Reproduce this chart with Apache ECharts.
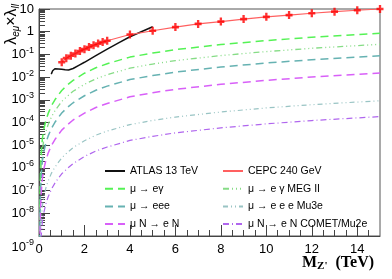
<!DOCTYPE html>
<html><head><meta charset="utf-8">
<script src="https://cdn.jsdelivr.net/npm/echarts@6/dist/echarts.min.js"></script>
<style>html,body{margin:0;padding:0;background:#fff}#c{width:392px;height:279px}</style>
</head><body><div id="c"></div>
<script>
// ---- data ----
const xTheory  = [0.03,0.05,0.07,0.1,0.15,0.2,0.3,0.4,0.55,0.7,0.85,1,1.25,1.5,2,2.5,3,4,5,6,8,10,12,15];
const muEgamma = [5e-9,1.3e-7,1e-6,5e-6,2e-5,4.4e-5,1.2e-4,2.45e-4,5.5e-4,1e-3,1.62e-3,2.57e-3,4.5e-3,7.2e-3,0.0148,0.0257,0.039,0.076,0.115,0.162,0.272,0.407,0.569,0.85];
const megII    = [1.6e-9,4.1e-8,3.3e-7,1.6e-6,6.5e-6,1.43e-5,3.9e-5,8.0e-5,1.8e-4,3.3e-4,5.3e-4,8.4e-4,1.46e-3,2.37e-3,4.8e-3,8.4e-3,0.0127,0.0248,0.0376,0.053,0.089,0.133,0.186,0.279];
const muEee    = [5.1e-10,1.29e-8,1.02e-7,5.1e-7,2.0e-6,4.5e-6,1.23e-5,2.5e-5,5.6e-5,1.02e-4,1.66e-4,2.6e-4,4.6e-4,7.4e-4,1.51e-3,2.63e-3,4.0e-3,7.8e-3,0.0117,0.0166,0.0278,0.0417,0.0582,0.087];
const muNeN    = [9e-11,2.2e-9,1.8e-8,8.9e-8,3.5e-7,7.8e-7,2.1e-6,4.4e-6,9.8e-6,1.78e-5,2.9e-5,4.6e-5,7.9e-5,1.29e-4,2.6e-4,4.6e-4,6.9e-4,1.35e-3,2.04e-3,2.9e-3,4.8e-3,7.2e-3,0.0101,0.0151];
const mu3e     = [5.4e-12,1.35e-10,1.07e-9,5.4e-9,2.14e-8,4.7e-8,1.29e-7,2.63e-7,5.9e-7,1.07e-6,1.74e-6,2.75e-6,4.8e-6,7.8e-6,1.58e-5,2.75e-5,4.2e-5,8.1e-5,1.23e-4,1.74e-4,2.9e-4,4.4e-4,6.1e-4,9.1e-4];
const comet    = [1.07e-12,2.7e-11,2.1e-10,1.07e-9,4.3e-9,9.3e-9,2.6e-8,5.2e-8,1.17e-7,2.14e-7,3.5e-7,5.5e-7,9.5e-7,1.55e-6,3.2e-6,5.5e-6,8.3e-6,1.62e-5,2.45e-5,3.5e-5,5.8e-5,8.7e-5,1.22e-4,1.82e-4];

const atlasX = [0.54,0.6,0.7,0.75,0.85,1.0,1.15,1.3,1.5,1.75,2.0,2.5,3.0,3.5,4.0,4.5,5.0];
const atlasY = [0.0135,0.019,0.0235,0.0245,0.023,0.022,0.021,0.0205,0.024,0.033,0.045,0.089,0.17,0.32,0.6,1.0,1.66];

const cepcX = [1.0,1.2,1.4,1.6,1.8,2.0,2.2,2.4,2.6,2.8,3.0,4,5,6,7,8,9,10,11,12,13,14,15];
const cepcY = [0.045,0.068,0.087,0.11,0.14,0.17,0.21,0.25,0.30,0.35,0.40,0.75,1.1,1.6,2.2,2.8,3.6,4.5,5.4,6.5,7.6,8.8,10];

const yMinorTicks = [];
for (let e = -9; e <= 0; e++) for (let k = 2; k <= 9; k++) yMinorTicks.push(+(k * Math.pow(10, e)).toPrecision(3));
const xMinorTicks = [];
for (let v = 0.5; v < 15; v += 0.5) if (v % 2 !== 0) xMinorTicks.push(v);

const pairs = (xs, ys) => xs.map((x, i) => [x, ys[i]]);
const FONT = 'Liberation Sans';
const SERIF = 'Liberation Serif';

const theory = [
  {name: 'μ → eγ', data: muEgamma, color: '#55f255', type: [8, 5], width: 1.5},
  {name: 'μ → e γ MEG II', data: megII, color: '#86dc86', type: [6, 3, 1, 3, 1, 3, 1, 3], width: 1.3},
  {name: 'μ → eee', data: muEee, color: '#66b2b2', type: [8, 5], width: 1.5},
  {name: 'μ N → e N', data: muNeN, color: '#d860f8', type: [8, 5], width: 1.5},
  {name: 'μ → e e e Mu3e', data: mu3e, color: '#99c4c4', type: [5, 3, 1, 3, 1, 3], width: 1.2},
  {name: 'μ N → e N COMET/Mu2e', data: comet, color: '#b066ee', type: [6, 3, 1, 3], width: 1.2}
];

const series = [];
theory.forEach(t => series.push({
  type: 'line', name: t.name, data: pairs(xTheory, t.data), symbol: 'none',
  lineStyle: {color: t.color, type: t.type, width: t.width}, itemStyle: {color: t.color}, z: 2
}));
series.push({type: 'line', name: 'ATLAS 13 TeV', data: pairs(atlasX, atlasY), symbol: 'none',
  lineStyle: {color: '#111', width: 1.5}, itemStyle: {color: '#111'}, z: 3});
series.push({type: 'line', name: 'CEPC 240 GeV', data: pairs(cepcX, cepcY), symbol: 'none',
  lineStyle: {color: '#ff6060', width: 1.2}, itemStyle: {color: '#ff6060'}, z: 3});
series.push({type: 'scatter', name: 'CEPC points', data: pairs(cepcX, cepcY),
  symbol: 'path://M2,0H4V2H6V4H4V6H2V4H0V2H2Z', symbolSize: [7, 8],
  itemStyle: {color: '#ff0000'}, z: 4});

const chart = echarts.init(document.getElementById('c'), null, {renderer: 'canvas'});
const legendCommon = {
  orient: 'vertical', top: 165, padding: 0, itemWidth: 20, itemHeight: 8, itemGap: 5.7,
  itemStyle: {opacity: 0},
  textStyle: {fontFamily: FONT, fontSize: 10.5, color: '#000', lineHeight: 12}, selectedMode: false
};
chart.setOption({
  animation: false,
  backgroundColor: '#fff',
  grid: {left: 39, right: 12, top: 9, bottom: 43, show: true, borderColor: '#555', borderWidth: 1,
         containLabel: false, outerBoundsMode: 'none'},
  legend: [
    Object.assign({left: 104, data: ['ATLAS 13 TeV', 'μ → eγ', 'μ → eee', 'μ N → e N']}, legendCommon),
    Object.assign({left: 222, data: ['CEPC 240 GeV', 'μ → e γ MEG II', 'μ → e e e Mu3e', 'μ N → e N COMET/Mu2e']}, legendCommon)
  ],
  xAxis: [{
    type: 'value', min: 0, max: 15, interval: 2,
    axisLine: {lineStyle: {color: '#444', width: 1}},
    axisTick: {inside: true, length: 11, lineStyle: {color: '#444'}},
    splitLine: {show: false},
    axisLabel: {showMaxLabel: false, fontFamily: FONT, fontSize: 13, color: '#000', margin: 7},
    name: '{m|M}{z|Z\'}{m|  (TeV)}', nameLocation: 'end', nameGap: -78, nameMoveOverlap: false,
    nameTextStyle: {verticalAlign: 'top', padding: [19, 0, 0, 0],
      rich: {m: {fontFamily: SERIF, fontWeight: 'bold', fontSize: 16, lineHeight: 16, color: '#000'},
             z: {fontFamily: SERIF, fontWeight: 'bold', fontSize: 11, lineHeight: 11, padding: [7, 0, 0, 0], color: '#000'}}}
  }, {
    type: 'value', min: 0, max: 15, position: 'bottom',
    axisLine: {show: false}, splitLine: {show: false}, axisLabel: {show: false},
    axisTick: {inside: true, length: 6, lineStyle: {color: '#444'}, customValues: xMinorTicks}
  }],
  yAxis: [{
    type: 'log', logBase: 10, min: 1e-9, max: 10, interval: 1,
    axisLine: {show: true, lineStyle: {color: '#444', width: 1}},
    axisTick: {inside: true, length: 11, lineStyle: {color: '#444'}},
    splitLine: {show: false},
    axisLabel: {
      margin: 5, color: '#000',
      formatter: v => {
        const e = Math.round(Math.log10(v));
        if (e === 0) return '{b|1}';
        if (e === 1) return '{b|10}';
        if (e === -9) return '{g| }\n{b|10}{s|' + e + '}';
        return '{b|10}{s|' + e + '}';
      },
      rich: {
        b: {fontFamily: FONT, fontSize: 13, lineHeight: 13, color: '#000'},
        s: {fontFamily: FONT, fontSize: 9, lineHeight: 9, padding: [0, 0, 8, 0], color: '#000'},
        g: {fontSize: 6, lineHeight: 22}
      }
    }
  }, {
    type: 'log', logBase: 10, min: 1e-9, max: 10, position: 'left',
    axisLine: {show: false}, splitLine: {show: false}, axisLabel: {show: false},
    axisTick: {show: true, inside: true, length: 6, lineStyle: {color: '#444'}, customValues: yMinorTicks}
  }],
  graphic: [{
    type: 'text', x: 12, y: 4, rotation: Math.PI / 2,
    style: {
      text: '{l|λ}{s|eμ}{l|×λ}{s|ll}', align: 'right', verticalAlign: 'middle',
      textAlign: 'right', textVerticalAlign: 'middle',
      rich: {
        l: {fontFamily: FONT, fontSize: 16, lineHeight: 16, fill: '#000'},
        s: {fontFamily: FONT, fontStyle: 'italic', fontSize: 10, lineHeight: 10, padding: [8, 0, 0, 0], fill: '#000'}
      }
    }
  }],
  series: series.map(s => Object.assign({xAxisIndex: 0, yAxisIndex: 0}, s))
});
</script></body></html>
